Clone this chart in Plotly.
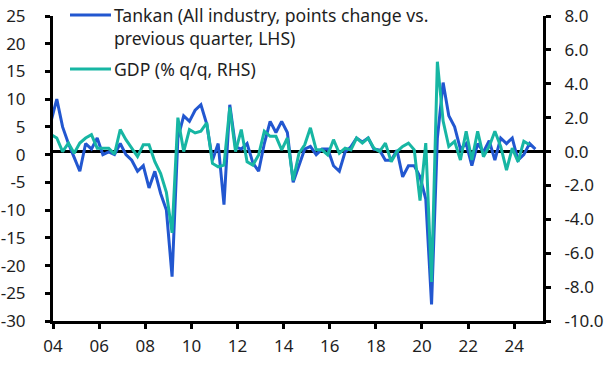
import plotly.graph_objects as go
import pandas as pd

# ---- data (quarterly, first point 2003Q4) ----
tankan = [6,
          10, 5, 2, -0.5,
          -3, 2, 1, 3,
          0, 0.5, 0, 2,
          0, -1, -3, -2,
          -6, -3, -7, -10,
          -22, 3, 7, 6,
          8, 9, 5.5, -1,
          2, -9, 9, 1.4,
          1, 2, -1.5, -3,
          2, 6, 4, 6,
          4, -5, -2, 1,
          1.5, 0, 1, 1,
          -2, -3, 0.5, 1.4,
          3, 2.3, 3, 1,
          0.8, -1, -1, 0.8,
          -4, -2, -2, -4,
          -8, -27, 3, 13,
          7, 5, 1, 2,
          -2, 2, 0.5, 2.5,
          -1, 3, 2, 3,
          -1, 0, 2, 1]

gdp = [1.0,
       0.8, 0.0, 0.5, -0.1,
       0.5, 0.8, 1.0, 0.2,
       0.2, 0.2, -0.15, 1.3,
       0.7, 0.2, -0.3, 0.4,
       0.4, -0.6, -1.3, -2.4,
       -4.8, 2.0, 0.0, 1.3,
       1.1, 1.2, 1.7, -0.7,
       -0.9, -0.8, 2.6, 0.0,
       1.3, -0.6, -0.8, -0.2,
       1.2, 0.9, 0.9, 0.1,
       0.8, -1.7, -0.1, 0.4,
       1.4, 0.1, 0.1, -0.2,
       0.7, -0.1, 0.2, 0.1,
       0.8, 0.5, 0.8, 0.2,
       0.0, 0.5, -0.6, 0.0,
       0.3, 0.5, 0.1, -2.9,
       0.5, -7.7, 5.3, 1.8,
       0.3, 0.6, -0.5, 1.2,
       -0.5, 1.2, -0.3, 0.3,
       1.2, 0.3, -1.1, 0.2,
       -0.6, 0.6, 0.4]

dates_tankan = pd.date_range("2003-12-01", periods=len(tankan), freq="3MS")
dates_gdp = pd.date_range("2003-12-01", periods=len(gdp), freq="3MS")

x_tickvals = [f"{y}-01-01" for y in range(2004, 2025, 2)]
x_ticktext = ["04", "06", "08", "10", "12", "14", "16", "18", "20", "22", "24"]
left_tickvals = [-30, -25, -20, -15, -10, -5, 0, 5, 10, 15, 20, 25]
left_ticktext = ["-30", "-25", "-20", "-15", "-10", "-5", "0", "5", "10", "15", "20", "25"]
right_tickvals = [-10, -8, -6, -4, -2, 0, 2, 4, 6, 8]
right_ticktext = ["-10.0", "-8.0", "-6.0", "-4.0", "-2.0", "0.0", "2.0", "4.0", "6.0", "8.0"]

name_tankan = "Tankan (All industry, points change vs.<br>previous quarter, LHS)"
name_gdp = "GDP (% q/q, RHS)"

BLUE = "#2257d0"
GREEN = "#17b6a3"
FONT = "Noto Sans"
FS = 17
FS_LEG = 17.6
TXT = "#1e1e1e"

fig = go.Figure()
fig.add_trace(go.Scatter(x=dates_tankan, y=tankan, mode="lines", name=name_tankan,
                         line=dict(color=BLUE, width=3), yaxis="y", showlegend=False))
fig.add_trace(go.Scatter(x=dates_gdp, y=gdp, mode="lines", name=name_gdp,
                         line=dict(color=GREEN, width=3), yaxis="y2", showlegend=False))

axis_common = dict(showline=True, linecolor="black", linewidth=3, ticks="outside",
                   ticklen=5, tickwidth=3, tickcolor="black", showgrid=False,
                   zeroline=False, automargin=False,
                   tickfont=dict(family=FONT, size=FS, color=TXT))

fig.update_layout(
    width=612, height=365,
    margin=dict(l=53, r=69, t=16, b=44),
    paper_bgcolor="white", plot_bgcolor="white",
    font=dict(family=FONT, size=FS, color=TXT),
    xaxis=dict(type="date", range=["2004-01-01", "2025-04-01"],
               tickmode="array", tickvals=x_tickvals, ticktext=x_ticktext,
               ticklabelstandoff=3, **axis_common),
    yaxis=dict(range=[-30, 25], tickmode="array", tickvals=left_tickvals,
               ticktext=left_ticktext, ticklabelstandoff=16, **axis_common),
    yaxis2=dict(range=[-10, 8], overlaying="y", side="right", anchor="x",
                tickmode="array", tickvals=right_tickvals, ticktext=right_ticktext,
                ticklabelstandoff=10, **axis_common),
)

# zero line
fig.add_shape(type="line", xref="paper", x0=0, x1=1, yref="y2", y0=0, y1=0,
              line=dict(color="black", width=3), layer="below")

# custom legend (positions given in page pixels, converted to paper coords)
H = 305.0
W = 490.0
def py(p):
    return (321 - p) / H
def px(p):
    return (p - 53) / W

fig.add_shape(type="line", xref="paper", yref="paper", x0=px(70), x1=px(111),
              y0=py(15), y1=py(15), line=dict(color=BLUE, width=3))
fig.add_shape(type="line", xref="paper", yref="paper", x0=px(70), x1=px(111),
              y0=py(69), y1=py(69), line=dict(color=GREEN, width=3))
legend_lines = name_tankan.split("<br>") + [name_gdp]
legend_y = [14.5, 38.5, 68.5]
for txt, yy in zip(legend_lines, legend_y):
    fig.add_annotation(text=txt, xref="paper", yref="paper", x=px(112), y=py(yy),
                       xanchor="left", yanchor="middle", showarrow=False,
                       font=dict(family=FONT, size=FS_LEG, color=TXT))

# remove the browser's default 8px body margin so the figure sits at the page origin
fig.write_html("out.html", config={"displayModeBar": False},
               post_script="document.body.style.margin='0';")
